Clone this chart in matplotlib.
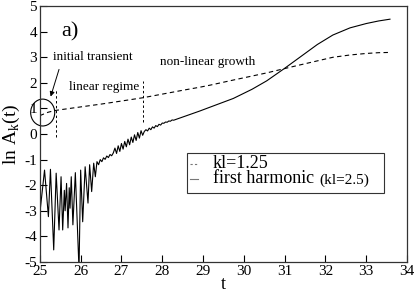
import matplotlib
matplotlib.use("Agg")
import matplotlib.pyplot as plt
from matplotlib.patches import Ellipse, Rectangle
from matplotlib.lines import Line2D

plt.rcParams['font.family'] = ['Liberation Serif', 'DejaVu Serif']
plt.rcParams['axes.unicode_minus'] = False
plt.rcParams['mathtext.fontset'] = 'custom'
plt.rcParams['mathtext.rm'] = 'Liberation Serif'

# ---- data ----
t_dash = [25.00, 25.20, 25.37, 26.00, 26.50, 27.00, 27.53, 28.00, 28.50, 28.92,
          29.17, 29.74, 30.56, 31.00, 31.37, 31.80, 32.18, 32.60, 33.00, 33.30, 33.58]
y_dash = [0.72, 0.85, 0.92, 1.06, 1.17, 1.29, 1.42, 1.56, 1.71, 1.83,
          1.91, 2.11, 2.39, 2.56, 2.70, 2.86, 3.00, 3.09, 3.15, 3.18, 3.19]

t_harm = [25.00, 25.115, 25.21, 25.26, 25.34, 25.40, 25.47, 25.52, 25.56, 25.60,
          25.62, 25.655, 25.69, 25.72, 25.74, 25.77, 25.81, 25.87, 25.96, 26.00,
          26.05, 26.11, 26.18, 26.22, 26.27, 26.32, 26.36, 26.40, 26.44, 26.48,
          26.52, 26.56, 26.60, 26.64, 26.68, 26.72, 26.76, 26.80, 26.84, 26.88,
          26.92, 26.96, 27.00, 27.04, 27.08, 27.12, 27.16, 27.20, 27.24, 27.28,
          27.32, 27.36, 27.40, 27.44, 27.48, 27.52, 27.56, 27.60, 27.64, 27.68,
          27.72, 27.76, 27.80, 27.84, 27.88, 27.92, 27.96, 28.00, 28.04, 28.08,
          28.12, 28.16, 28.20, 28.24, 28.28, 28.35, 28.60, 28.92, 29.17, 29.74,
          30.20, 30.56, 31.00, 31.37, 31.80, 32.18, 32.60, 33.00, 33.30, 33.58]
y_harm = [-3.10, -1.41, -3.23, -1.38, -4.53, -1.53, -3.75, -1.67, -3.75, -2.20,
          -3.00, -1.93, -3.67, -2.10, -2.90, -1.67, -3.55, -1.51, -5.30, -1.41,
          -3.43, -1.28, -2.70, -1.20, -2.25, -1.14, -1.67, -1.08, -1.20, -1.00,
          -1.08, -0.93, -0.99, -0.86, -0.92, -0.80, -0.85, -0.74, -0.55, -0.76,
          -0.46, -0.68, -0.37, -0.59, -0.29, -0.50, -0.20, -0.42, -0.12, -0.33,
          -0.03, -0.25, 0.06, -0.16, 0.13, -0.05, 0.10, 0.17, 0.12, 0.23,
          0.17, 0.28, 0.23, 0.33, 0.29, 0.38, 0.35, 0.43, 0.42, 0.47,
          0.46, 0.51, 0.50, 0.55, 0.54, 0.58, 0.72, 0.90, 1.05, 1.39,
          1.75, 2.08, 2.57, 3.00, 3.50, 3.87, 4.15, 4.32, 4.42, 4.49]

x_ticks = [25, 26, 27, 28, 29, 30, 31, 32, 33, 34]
y_ticks = [-5, -4, -3, -2, -1, 0, 1, 2, 3, 4, 5]
regime_marks = [25.39, 27.52]
regime_lo = [-0.12, 0.47]
regime_hi = [1.72, 2.07]
legend_labels = ['kl=1.25', 'first harmonic']
legend_note = '(kl=2.5)'

DASH = (0, (4, 3))

# ---- figure ----
fig = plt.figure(figsize=(4.15, 2.92), dpi=100)
ax = fig.add_axes([0.096, 0.103, 0.885, 0.876])

ax.plot(t_dash, y_dash, color='black', lw=0.8, ls=DASH)
ax.plot(t_harm, y_harm, color='black', lw=0.8)

for xm, lo, hi in zip(regime_marks, regime_lo, regime_hi):
    ax.plot([xm, xm], [lo, hi], color='black', lw=0.7, ls=(0, (2.5, 2.5)))

ax.set_xlim(25, 34)
ax.set_ylim(-5, 5)
ax.set_xticks(x_ticks)
ax.set_yticks(y_ticks)
ax.tick_params(direction='in', length=5, width=0.8, labelsize=11, pad=2)
for s in ax.spines.values():
    s.set_linewidth(0.9)
    s.set_color('#333333')

ax.set_xlabel('t', fontsize=13, labelpad=-1)
ax.set_ylabel(r'ln A$_\mathregular{k}$(t)', fontsize=14, labelpad=2)

# annotations
ax.text(25.53, 4.0, 'a)', fontsize=16, ha='left', va='center')
ax.text(26.30, 3.0, 'initial transient', fontsize=9.5, ha='center', va='center')
ax.text(26.58, 1.84, 'linear regime', fontsize=9.5, ha='center', va='center')
ax.text(29.10, 2.82, 'non-linear growth', fontsize=9.5, ha='center', va='center')
ax.annotate('', xy=(25.245, 1.36), xytext=(25.49, 2.63),
            arrowprops=dict(arrowstyle='-|>', color='black', lw=0.7,
                            mutation_scale=7))
ax.add_patch(Ellipse((25.07, 0.84), 0.59, 1.05, fill=False, edgecolor='black',
                     lw=0.8, clip_on=False))

# legend (frame + keys + labels placed in axes fraction)
ax.add_patch(Rectangle((0.4005, 0.27), 0.537, 0.156, transform=ax.transAxes,
                       facecolor='white', edgecolor='#333333', lw=0.8, zorder=4))
ax.add_line(Line2D([0.409, 0.431], [0.383, 0.383], transform=ax.transAxes,
                   color='#777777', lw=0.8, ls=(0, (2, 2)), zorder=5))
ax.add_line(Line2D([0.409, 0.431], [0.325, 0.325], transform=ax.transAxes,
                   color='#777777', lw=0.8, zorder=5))
ax.text(0.471, 0.366, legend_labels[0], transform=ax.transAxes, fontsize=13,
        ha='left', va='baseline', zorder=6)
ax.text(0.471, 0.307, legend_labels[1], transform=ax.transAxes, fontsize=13,
        ha='left', va='baseline', zorder=6)
ax.text(0.762, 0.307, legend_note, transform=ax.transAxes, fontsize=11,
        ha='left', va='baseline', zorder=6)

fig.savefig('out.png', dpi=100)
